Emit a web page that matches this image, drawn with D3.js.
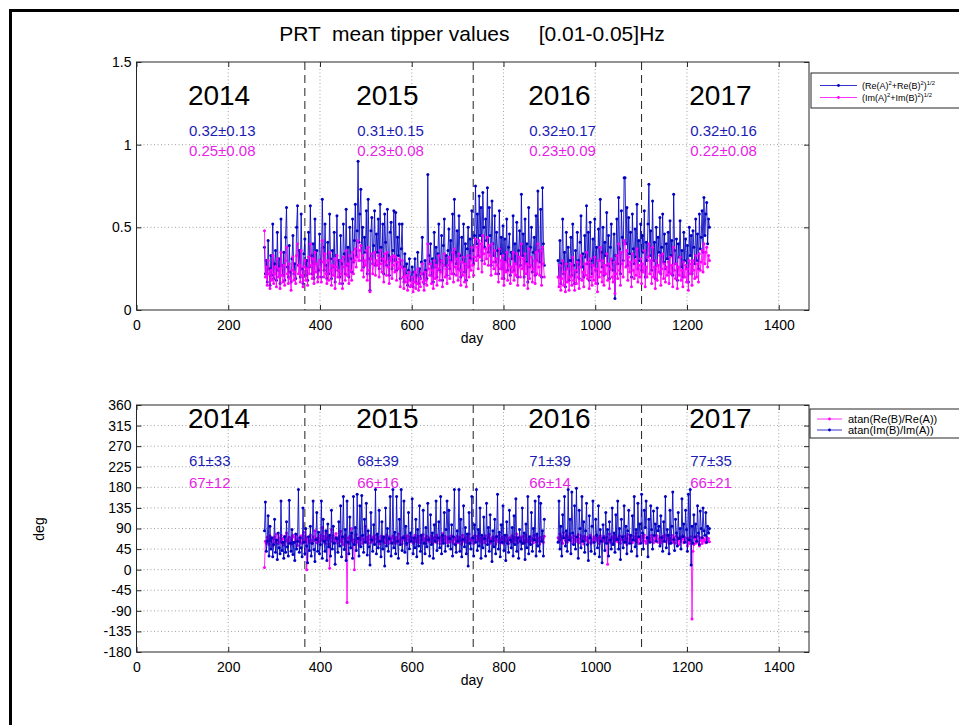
<!DOCTYPE html>
<html>
<head>
<meta charset="utf-8">
<script src="https://cdn.jsdelivr.net/npm/d3@7"></script>
<style>
  body { margin: 0; background: #fff; }
  svg { font-family: "Liberation Sans", Arial, sans-serif; }
</style>
</head>
<body>
<div id="my_dataviz"></div>
<script>
// days of the two recording segments (gap in between), one value every 2 days
var days1 = d3.range(279, 890, 2);
var days2 = d3.range(919, 1250, 2);

// top plot: (Re(A)^2+Re(B)^2)^1/2
var reMag1 = [
  0.38,0.22,0.3,0.17,0.42,0.25,0.15,0.33,0.21,0.52,
  0.19,0.28,0.36,0.18,0.47,0.24,0.31,0.16,0.55,0.27,
  0.21,0.35,0.18,0.44,0.62,0.26,0.2,0.39,0.23,0.17,
  0.31,0.45,0.22,0.28,0.19,0.5,0.63,0.27,0.36,0.2,
  0.58,0.25,0.16,0.34,0.43,0.21,0.3,0.18,0.47,0.26,
  0.63,0.33,0.22,0.4,0.19,0.55,0.28,0.36,0.2,0.24,
  0.46,0.3,0.2,0.67,0.38,0.24,0.52,0.27,0.19,0.41,
  0.22,0.58,0.31,0.19,0.36,0.26,0.47,0.17,0.33,0.57,
  0.24,0.3,0.2,0.45,0.28,0.16,0.52,0.34,0.22,0.61,
  0.27,0.38,0.2,0.5,0.31,0.23,0.55,0.29,0.42,0.64,
  0.33,0.48,0.9,0.41,0.58,0.73,0.3,0.5,0.26,0.44,
  0.35,0.6,0.22,0.67,0.31,0.12,0.48,0.56,0.28,0.39,
  0.6,0.27,0.46,0.35,0.55,0.25,0.64,0.38,0.3,0.52,
  0.22,0.58,0.41,0.27,0.61,0.33,0.21,0.47,0.53,0.25,
  0.36,0.6,0.3,0.59,0.24,0.44,0.33,0.52,0.19,0.37,
  0.52,0.26,0.17,0.34,0.22,0.28,0.15,0.24,0.31,0.18,
  0.2,0.26,0.14,0.23,0.31,0.17,0.21,0.35,0.16,0.25,
  0.19,0.29,0.44,0.22,0.16,0.3,0.24,0.19,0.82,0.33,
  0.28,0.4,0.21,0.31,0.17,0.47,0.26,0.38,0.2,0.34,
  0.52,0.24,0.3,0.45,0.18,0.39,0.55,0.27,0.33,0.21,
  0.36,0.49,0.25,0.42,0.3,0.58,0.22,0.67,0.35,0.28,
  0.48,0.25,0.57,0.33,0.2,0.44,0.29,0.52,0.23,0.4,
  0.18,0.37,0.5,0.26,0.43,0.31,0.6,0.36,0.28,0.45,
  0.75,0.4,0.58,0.33,0.69,0.45,0.62,0.3,0.71,0.5,
  0.38,0.55,0.42,0.74,0.35,0.62,0.45,0.27,0.66,0.4,
  0.33,0.57,0.29,0.47,0.36,0.22,0.6,0.34,0.44,0.25,
  0.51,0.19,0.43,0.3,0.55,0.24,0.38,0.46,0.21,0.35,
  0.31,0.57,0.24,0.4,0.28,0.53,0.2,0.36,0.48,0.27,
  0.7,0.33,0.46,0.2,0.55,0.29,0.4,0.17,0.62,0.26,
  0.38,0.5,0.23,0.35,0.44,0.21,0.57,0.3,0.72,0.36,
  0.29,0.61,0.2,0.74,0.4,0.27
];
var reMag2 = [
  0.3,0.2,0.42,0.16,0.28,0.55,0.22,0.35,0.14,0.47,
  0.25,0.38,0.18,0.3,0.44,0.21,0.52,0.27,0.16,0.36,
  0.23,0.47,0.3,0.19,0.41,0.57,0.26,0.34,0.2,0.45,
  0.32,0.63,0.28,0.47,0.18,0.53,0.3,0.22,0.43,0.27,
  0.55,0.24,0.38,0.16,0.49,0.3,0.67,0.35,0.26,0.5,
  0.21,0.41,0.33,0.59,0.27,0.45,0.19,0.38,0.52,0.3,
  0.24,0.46,0.07,0.33,0.55,0.28,0.68,0.37,0.22,0.6,
  0.44,0.3,0.8,0.8,0.4,0.62,0.27,0.56,0.34,0.47,
  0.2,0.58,0.37,0.28,0.49,0.32,0.64,0.25,0.42,0.3,
  0.52,0.24,0.45,0.35,0.6,0.2,0.41,0.3,0.52,0.76,
  0.33,0.48,0.24,0.66,0.3,0.41,0.19,0.5,0.27,0.44,
  0.35,0.56,0.22,0.38,0.58,0.29,0.46,0.25,0.4,0.31,
  0.47,0.23,0.54,0.33,0.42,0.21,0.7,0.36,0.28,0.43,
  0.18,0.4,0.32,0.54,0.26,0.36,0.2,0.47,0.3,0.43,
  0.25,0.39,0.17,0.5,0.33,0.45,0.22,0.48,0.38,0.28,
  0.55,0.3,0.46,0.25,0.58,0.37,0.44,0.6,0.35,0.68,
  0.45,0.58,0.65,0.4,0.55,0.5
];

// top plot: (Im(A)^2+Im(B)^2)^1/2
var imMag1 = [
  0.48,0.2,0.26,0.15,0.3,0.22,0.13,0.24,0.18,0.33,
  0.16,0.22,0.26,0.14,0.31,0.2,0.25,0.13,0.35,0.21,
  0.17,0.27,0.15,0.3,0.38,0.22,0.16,0.28,0.19,0.12,
  0.24,0.32,0.18,0.23,0.16,0.33,0.4,0.22,0.27,0.17,
  0.36,0.21,0.14,0.26,0.3,0.18,0.25,0.15,0.32,0.22,
  0.4,0.27,0.19,0.31,0.16,0.35,0.23,0.28,0.17,0.2,
  0.3,0.25,0.17,0.42,0.29,0.2,0.34,0.22,0.16,0.3,
  0.18,0.35,0.24,0.15,0.27,0.21,0.31,0.13,0.26,0.33,
  0.2,0.24,0.16,0.3,0.22,0.13,0.32,0.26,0.18,0.36,
  0.21,0.28,0.16,0.33,0.24,0.18,0.35,0.22,0.3,0.37,
  0.26,0.32,0.42,0.3,0.36,0.39,0.24,0.33,0.2,0.3,
  0.27,0.36,0.18,0.38,0.24,0.11,0.31,0.34,0.22,0.28,
  0.35,0.21,0.3,0.27,0.33,0.2,0.36,0.28,0.23,0.31,
  0.17,0.34,0.29,0.21,0.35,0.26,0.16,0.3,0.32,0.19,
  0.27,0.33,0.23,0.32,0.18,0.29,0.25,0.31,0.14,0.26,
  0.3,0.2,0.13,0.25,0.17,0.21,0.12,0.18,0.23,0.14,
  0.15,0.2,0.11,0.17,0.23,0.13,0.16,0.25,0.12,0.19,
  0.14,0.22,0.28,0.17,0.12,0.23,0.18,0.15,0.4,0.25,
  0.21,0.28,0.16,0.24,0.13,0.3,0.19,0.27,0.15,0.25,
  0.33,0.18,0.23,0.3,0.14,0.27,0.34,0.2,0.25,0.16,
  0.27,0.32,0.19,0.29,0.22,0.35,0.17,0.37,0.26,0.21,
  0.31,0.18,0.34,0.24,0.15,0.29,0.21,0.32,0.17,0.28,
  0.14,0.26,0.33,0.2,0.3,0.24,0.38,0.27,0.21,0.32,
  0.43,0.3,0.38,0.25,0.42,0.32,0.4,0.23,0.45,0.34,
  0.28,0.37,0.31,0.44,0.27,0.39,0.33,0.21,0.4,0.29,
  0.25,0.36,0.22,0.31,0.27,0.17,0.37,0.25,0.3,0.19,
  0.33,0.15,0.29,0.23,0.35,0.18,0.27,0.31,0.16,0.26,
  0.23,0.35,0.18,0.28,0.21,0.34,0.15,0.26,0.32,0.2,
  0.4,0.25,0.31,0.15,0.34,0.22,0.28,0.13,0.37,0.19,
  0.27,0.32,0.17,0.25,0.3,0.16,0.35,0.22,0.4,0.26,
  0.21,0.36,0.15,0.38,0.28,0.2
];
var imMag2 = [
  0.2,0.14,0.27,0.12,0.19,0.3,0.15,0.23,0.11,0.28,
  0.17,0.25,0.12,0.2,0.28,0.15,0.32,0.18,0.12,0.24,
  0.16,0.29,0.2,0.13,0.26,0.33,0.18,0.23,0.14,0.28,
  0.21,0.35,0.19,0.29,0.13,0.31,0.2,0.15,0.27,0.18,
  0.32,0.16,0.25,0.11,0.3,0.2,0.38,0.23,0.17,0.3,
  0.15,0.27,0.22,0.34,0.18,0.28,0.13,0.25,0.31,0.2,
  0.17,0.29,0.1,0.22,0.33,0.19,0.4,0.24,0.15,0.35,
  0.28,0.2,0.42,0.4,0.26,0.36,0.18,0.32,0.23,0.29,
  0.14,0.34,0.24,0.19,0.3,0.21,0.37,0.17,0.27,0.2,
  0.31,0.16,0.28,0.23,0.36,0.14,0.26,0.2,0.32,0.4,
  0.22,0.3,0.16,0.38,0.2,0.26,0.13,0.3,0.18,0.27,
  0.23,0.33,0.15,0.25,0.34,0.19,0.28,0.17,0.26,0.21,
  0.29,0.16,0.32,0.22,0.27,0.14,0.38,0.24,0.19,0.28,
  0.13,0.26,0.21,0.32,0.18,0.24,0.14,0.29,0.2,0.27,
  0.17,0.25,0.12,0.3,0.22,0.28,0.15,0.3,0.24,0.19,
  0.33,0.2,0.28,0.17,0.34,0.24,0.29,0.36,0.23,0.4,
  0.28,0.35,0.38,0.26,0.33,0.3
];

// bottom plot: atan(Re(B)/Re(A)) in deg
var atanRe1 = [
  5,62,58,71,66,55,74,63,69,52,
  67,72,60,78,64,57,70,61,75,59,
  68,54,73,62,80,65,58,71,63,69,
  56,75,72,60,67,77,53,64,70,61,
  74,58,66,82,62,69,0,71,64,60,
  76,65,57,72,63,85,68,59,66,70,
  61,75,64,92,67,73,58,80,65,71,
  56,3,69,88,62,74,60,67,79,63,
  58,72,66,84,61,70,55,68,75,62,
  -72,69,57,73,64,90,66,59,0,63,
  77,60,68,54,70,65,73,58,67,62,
  95,64,71,57,66,74,60,69,63,72,
  58,67,75,61,70,64,56,73,66,62,
  71,59,68,76,63,57,72,65,60,69,
  74,62,67,58,71,66,78,61,64,70,
  57,68,73,63,69,55,74,66,61,72,
  64,70,58,67,75,62,69,60,73,65,
  59,71,66,77,62,68,57,73,64,70,
  61,67,74,58,69,65,72,60,76,63,
  68,57,71,64,79,62,66,73,59,70,
  65,72,60,68,74,63,58,70,66,61,
  73,59,67,71,64,56,75,62,69,66,
  60,72,65,78,58,67,63,70,57,74,
  66,61,73,64,80,62,69,57,71,65,
  59,74,66,62,70,77,58,68,64,72,
  63,69,56,73,65,61,76,60,67,71,
  58,66,72,62,75,64,57,70,68,61,
  74,60,67,71,63,78,59,66,72,62,
  69,57,73,64,60,76,65,61,70,58,
  72,63,68,59,75,66,61,74,62,69,
  56,71,64,67,60,73
];
var atanRe2 = [
  70,62,78,66,73,58,81,69,64,75,
  60,72,67,79,63,70,57,74,66,61,
  71,65,77,59,68,74,62,70,56,73,
  66,63,71,60,69,75,58,67,64,72,
  61,68,76,63,70,57,74,65,69,62,
  73,66,59,71,12,64,78,60,68,72,
  57,69,75,63,70,61,67,74,58,66,
  71,64,60,73,68,55,77,62,69,65,
  74,59,67,72,63,80,61,70,57,68,
  65,73,60,69,76,62,58,71,64,67,
  70,61,75,66,59,72,63,68,74,60,
  67,71,58,64,73,62,69,76,61,66,
  72,57,68,63,75,60,70,65,58,73,
  64,69,55,71,62,67,74,59,66,70,
  61,52,68,57,72,63,-108,40,55,69,
  58,66,73,60,52,70,64,57,69,62,
  66,59,71,64,68,61
];

// bottom plot: atan(Im(B)/Im(A)) in deg
var atanIm1 = [
  85,148,40,62,118,30,95,45,70,28,
  55,110,38,65,22,80,48,35,150,42,
  60,25,72,38,105,50,30,152,58,40,
  88,33,60,20,78,45,62,175,38,70,
  48,28,135,60,35,90,52,15,72,42,
  95,30,58,150,44,18,66,125,40,82,
  35,55,150,25,110,62,40,85,20,100,
  50,75,30,130,45,95,58,12,70,68,
  38,105,52,140,28,72,160,44,88,20,
  150,60,35,115,48,80,25,160,55,92,
  42,165,68,30,140,50,162,75,38,110,
  60,145,32,85,50,10,125,65,40,98,
  55,175,35,78,48,130,62,28,105,45,
  72,8,135,52,90,40,68,160,30,58,
  175,48,82,35,160,62,25,110,55,175,
  42,70,150,38,95,58,14,125,46,80,
  62,155,35,70,48,110,28,88,52,140,
  40,75,14,130,58,35,92,50,145,66,
  30,120,55,80,25,98,62,150,42,70,
  105,48,160,35,75,58,125,40,88,150,
  52,130,68,45,98,30,72,175,55,38,
  85,62,175,40,110,28,66,140,50,92,
  35,78,8,125,58,45,160,70,30,98,
  60,175,42,88,52,135,25,75,48,115,
  68,30,145,55,92,40,120,62,18,85,
  50,110,35,72,165,45,82,28,98,60,
  140,42,75,20,105,58,38,130,65,48,
  92,30,118,55,155,40,70,25,88,62,
  45,135,58,80,22,100,48,160,35,72,
  55,125,40,90,65,150,30,78,52,160,
  40,145,62,85,30,110
];
var atanIm2 = [
  60,150,45,95,30,120,70,160,52,85,
  40,175,65,110,35,170,80,55,140,45,
  178,72,25,130,90,48,160,62,105,38,
  85,145,55,20,118,70,40,95,150,60,
  35,110,75,48,140,28,88,62,15,98,
  70,42,125,58,88,30,105,65,45,135,
  55,80,38,120,66,150,45,90,22,110,
  72,48,140,60,95,35,85,130,58,75,
  40,118,65,160,50,88,30,145,72,100,
  58,165,80,45,130,92,150,70,28,110,
  60,140,88,45,128,75,100,62,135,85,
  95,52,118,70,40,105,62,160,48,88,
  75,35,130,58,95,170,66,42,110,80,
  52,125,68,90,45,155,72,100,60,130,
  88,40,165,65,175,10,95,58,120,72,
  100,62,140,80,55,128,90,70,135,85,
  75,125,60,95,80,90
];

// year boundaries, labels and per-year statistics
var yearBreaks = [367, 734, 1101];
var yearLabels = ["2014", "2015", "2016", "2017"];
var yearTextDay = [112, 479, 854, 1205];
var statsReMag = ["0.32\u00b10.13", "0.31\u00b10.15", "0.32\u00b10.17", "0.32\u00b10.16"];
var statsImMag = ["0.25\u00b10.08", "0.23\u00b10.08", "0.23\u00b10.09", "0.22\u00b10.08"];
var statsAtanIm = ["61\u00b133", "68\u00b139", "71\u00b139", "77\u00b135"];
var statsAtanRe = ["67\u00b112", "66\u00b116", "66\u00b114", "66\u00b121"];

var xTicks = [0, 200, 400, 600, 800, 1000, 1200, 1400];
var yTicksTop = [0, 0.5, 1, 1.5];
var yTicksBot = [-180, -135, -90, -45, 0, 45, 90, 135, 180, 225, 270, 315, 360];

var blue = "#0000c0", magenta = "#ff00ff";
var blueText = "#1c1cb4", magentaText = "#e61ee6";

var width = 959, height = 725;

var svg = d3.select("#my_dataviz")
  .append("svg")
    .attr("width", width)
    .attr("height", height);

// figure frame
svg.append("rect")
  .attr("x", 10.5).attr("y", 10.5)
  .attr("width", 990).attr("height", 760)
  .attr("fill", "none")
  .attr("stroke", "#000")
  .attr("stroke-width", 3);

svg.append("text")
  .attr("x", 472).attr("y", 41)
  .attr("text-anchor", "middle")
  .style("font-size", "21px")
  .attr("xml:space", "preserve")
  .text("PRT  mean tipper values     [0.01-0.05]Hz");

var x = d3.scaleLinear().domain([0, 1466]).range([136.5, 809]);

function makePanel(top, bottom, yDomain, yTicks) {
  var y = d3.scaleLinear().domain(yDomain).range([bottom, top]);
  var g = svg.append("g");

  // grid
  g.selectAll("xgrid").data(xTicks.slice(1)).enter().append("line")
    .attr("x1", function(d) { return x(d); }).attr("x2", function(d) { return x(d); })
    .attr("y1", top).attr("y2", bottom)
    .attr("stroke", "#8c8c8c").attr("stroke-width", 0.8)
    .attr("stroke-dasharray", "1,2.5");
  g.selectAll("ygrid").data(yTicks.slice(1, -1)).enter().append("line")
    .attr("x1", x(0)).attr("x2", x(1466))
    .attr("y1", function(d) { return y(d); }).attr("y2", function(d) { return y(d); })
    .attr("stroke", "#8c8c8c").attr("stroke-width", 0.8)
    .attr("stroke-dasharray", "1,2.5");

  // year boundaries
  g.selectAll("ybreak").data(yearBreaks).enter().append("line")
    .attr("x1", function(d) { return x(d); }).attr("x2", function(d) { return x(d); })
    .attr("y1", top).attr("y2", bottom)
    .attr("stroke", "#222").attr("stroke-width", 1)
    .attr("stroke-dasharray", "8,5");

  // axes, ticks pointing inward
  g.append("g")
    .attr("transform", "translate(0," + bottom + ")")
    .call(d3.axisBottom(x).tickValues(xTicks).tickSize(-5).tickPadding(10)
      .tickFormat(d3.format("d")));
  g.append("g")
    .attr("transform", "translate(0," + top + ")")
    .call(d3.axisTop(x).tickValues(xTicks).tickSize(-5).tickFormat(""));
  g.append("g")
    .attr("transform", "translate(" + x(0) + ",0)")
    .call(d3.axisLeft(y).tickValues(yTicks).tickSize(-5).tickPadding(5)
      .tickFormat(function(d) { return String(d); }));
  g.append("g")
    .attr("transform", "translate(" + x(1466) + ",0)")
    .call(d3.axisRight(y).tickValues(yTicks).tickSize(-5).tickFormat(""));
  g.selectAll(".domain").remove();
  g.selectAll(".tick line").attr("stroke", "#262626");
  g.selectAll(".tick text").style("font-size", "14px").attr("fill", "#000")
    .style("font-family", "'Liberation Sans', Arial, sans-serif");

  g.append("rect")
    .attr("x", x(0)).attr("y", top)
    .attr("width", x(1466) - x(0)).attr("height", bottom - top)
    .attr("fill", "none").attr("stroke", "#262626").attr("stroke-width", 1);

  g.append("text")
    .attr("x", 472).attr("y", bottom + 33)
    .attr("text-anchor", "middle")
    .style("font-size", "14px")
    .text("day");

  return { g: g, y: y };
}

function drawSeries(p, days, vals, color) {
  var pts = days.map(function(d, i) { return [d, vals[i]]; });
  p.g.append("path")
    .datum(pts)
    .attr("fill", "none")
    .attr("stroke", color)
    .attr("stroke-width", 1)
    .attr("stroke-opacity", 0.85)
    .attr("d", d3.line()
      .x(function(d) { return x(d[0]); })
      .y(function(d) { return p.y(d[1]); }));
  p.g.selectAll("pt")
    .data(pts)
    .enter()
    .append("circle")
      .attr("cx", function(d) { return x(d[0]); })
      .attr("cy", function(d) { return p.y(d[1]); })
      .attr("r", 1.5)
      .attr("fill", color);
}

function yearText(p, yYear, yA, yB, statsA, statsB, colA, colB) {
  yearLabels.forEach(function(lab, i) {
    var xx = x(yearTextDay[i]);
    p.g.append("text").attr("x", xx).attr("y", yYear)
      .style("font-size", "28px").text(lab);
    p.g.append("text").attr("x", xx + 1).attr("y", yA)
      .style("font-size", "15px").attr("fill", colA).text(statsA[i]);
    p.g.append("text").attr("x", xx + 1).attr("y", yB)
      .style("font-size", "15px").attr("fill", colB).text(statsB[i]);
  });
}

function legend(lx, ly, w, h, rows) {
  var lg = svg.append("g");
  lg.append("rect")
    .attr("x", lx).attr("y", ly).attr("width", w).attr("height", h)
    .attr("fill", "#fff").attr("stroke", "#262626").attr("stroke-width", 1);
  rows.forEach(function(r) {
    lg.append("line")
      .attr("x1", r.x1).attr("x2", r.x2).attr("y1", r.y).attr("y2", r.y)
      .attr("stroke", r.color).attr("stroke-width", 0.8);
    lg.append("circle")
      .attr("cx", (r.x1 + r.x2) / 2).attr("cy", r.y).attr("r", 1.4)
      .attr("fill", r.color);
    var t = lg.append("text")
      .attr("x", r.tx).attr("y", r.y + r.size * 0.36)
      .style("font-size", r.size + "px");
    var raised = false;
    r.parts.forEach(function(part) {
      if (part.sup) {
        t.append("tspan").attr("dy", raised ? 0 : -r.size * 0.4)
          .style("font-size", (r.size * 0.65) + "px").text(part.sup);
        raised = true;
      } else {
        t.append("tspan").attr("dy", raised ? r.size * 0.4 : 0).text(part.t);
        raised = false;
      }
    });
  });
}

// top panel
var p1 = makePanel(62, 310, [0, 1.5], yTicksTop);
drawSeries(p1, days1, reMag1, blue);
drawSeries(p1, days2, reMag2, blue);
drawSeries(p1, days1, imMag1, magenta);
drawSeries(p1, days2, imMag2, magenta);
yearText(p1, 105, 136, 156, statsReMag, statsImMag, blueText, magentaText);

legend(811, 73, 160, 35, [
  { y: 85.5, x1: 820, x2: 857, tx: 862, size: 9, color: blue,
    parts: [{t: "(Re(A)"}, {sup: "2"}, {t: "+Re(B)"}, {sup: "2"}, {t: ")"}, {sup: "1/2"}] },
  { y: 97.5, x1: 820, x2: 857, tx: 862, size: 9, color: magenta,
    parts: [{t: "(Im(A)"}, {sup: "2"}, {t: "+Im(B)"}, {sup: "2"}, {t: ")"}, {sup: "1/2"}] }
]);

// bottom panel
var p2 = makePanel(405, 652, [-180, 360], yTicksBot);
drawSeries(p2, days1, atanRe1, magenta);
drawSeries(p2, days2, atanRe2, magenta);
drawSeries(p2, days1, atanIm1, blue);
drawSeries(p2, days2, atanIm2, blue);
yearText(p2, 428, 466, 488, statsAtanIm, statsAtanRe, blueText, magentaText);

svg.append("text")
  .attr("transform", "translate(44,529)rotate(-90)")
  .attr("text-anchor", "middle")
  .style("font-size", "14px")
  .text("deg");

legend(810, 409, 160, 29, [
  { y: 419, x1: 817, x2: 842, tx: 848, size: 11, color: magenta,
    parts: [{t: "atan(Re(B)/Re(A))"}] },
  { y: 430, x1: 817, x2: 842, tx: 848, size: 11, color: blue,
    parts: [{t: "atan(Im(B)/Im(A))"}] }
]);
</script>
</body>
</html>
